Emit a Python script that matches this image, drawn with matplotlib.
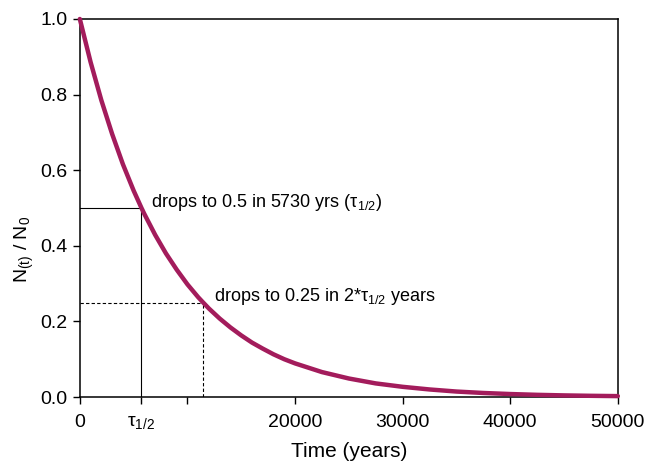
import matplotlib
matplotlib.use("Agg")
import matplotlib.pyplot as plt

plt.rcParams['font.family'] = ['Liberation Sans', 'DejaVu Sans']
plt.rcParams['mathtext.fontset'] = 'custom'
plt.rcParams['mathtext.rm'] = 'Liberation Sans'
plt.rcParams['mathtext.it'] = 'Liberation Sans:italic'

# Data (fraction remaining vs time)
time_years = [0, 1000, 2000, 3000, 4000, 5000, 5730, 6000, 7000, 8000, 9000, 10000,
              11000, 11460, 12000, 13000, 14000, 15000, 16000, 17000, 18000, 19000,
              20000, 22500, 25000, 27500, 30000, 32500, 35000, 37500, 40000, 42500,
              45000, 47500, 50000]
fraction = [1.000, 0.886, 0.785, 0.696, 0.616, 0.546, 0.500, 0.484, 0.429, 0.380,
            0.337, 0.298, 0.264, 0.250, 0.234, 0.2075, 0.184, 0.163, 0.144, 0.128,
            0.113, 0.100, 0.089, 0.066, 0.049, 0.036, 0.027, 0.020, 0.0145, 0.0107,
            0.0079, 0.0058, 0.0043, 0.0032, 0.0024]

half_life = 5730
two_half = 11460
xtick_vals = [0, 5730, 10000, 20000, 30000, 40000, 50000]
xtick_labels = ['0', r'τ$_{\mathregular{1/2}}$', '', '20000', '30000', '40000', '50000']
ytick_vals = [0.0, 0.2, 0.4, 0.6, 0.8, 1.0]

fig = plt.figure(figsize=(6.49, 4.63), dpi=100)
ax = fig.add_axes([0.123, 0.1425, 0.829, 0.8165])

ax.plot([0, half_life], [0.5, 0.5], color='black', lw=0.8)
ax.plot([half_life, half_life], [0, 0.5], color='black', lw=0.8)
ax.plot([0, two_half], [0.25, 0.25], color='black', lw=0.8, ls=(0, (3, 2)))
ax.plot([two_half, two_half], [0, 0.25], color='black', lw=0.8, ls=(0, (3, 2)))

ax.plot(time_years, fraction, color='#a31c5c', lw=3.2, solid_capstyle='round',
        clip_on=False, zorder=5)

ax.text(6650, 0.515, r'drops to 0.5 in 5730 yrs (τ$_{\mathregular{1/2}}$)', fontsize=13,
        va='center', ha='left')
ax.text(12500, 0.265, r'drops to 0.25 in 2*τ$_{\mathregular{1/2}}$ years', fontsize=13,
        va='center', ha='left')

ax.set_xlim(0, 50000)
ax.set_ylim(0, 1.0)
ax.set_xticks(xtick_vals)
ax.set_xticklabels(xtick_labels)
ax.set_yticks(ytick_vals)
ax.set_yticklabels([f'{v:.1f}' for v in ytick_vals])
ax.tick_params(axis='both', direction='out', length=5, width=1, labelsize=14)
ax.tick_params(axis='x', pad=7)
ax.tick_params(axis='y', pad=4)
for s in ax.spines.values():
    s.set_linewidth(1.1)

ax.set_xlabel('Time (years)', fontsize=15)
ax.xaxis.set_label_coords(0.5, -0.118)
ax.set_ylabel(r'N$_{\mathregular{(t)}}$ / N$_{\mathregular{0}}$', fontsize=14)
ax.yaxis.set_label_coords(-0.082, 0.39)

fig.savefig('out.png', dpi=100)
